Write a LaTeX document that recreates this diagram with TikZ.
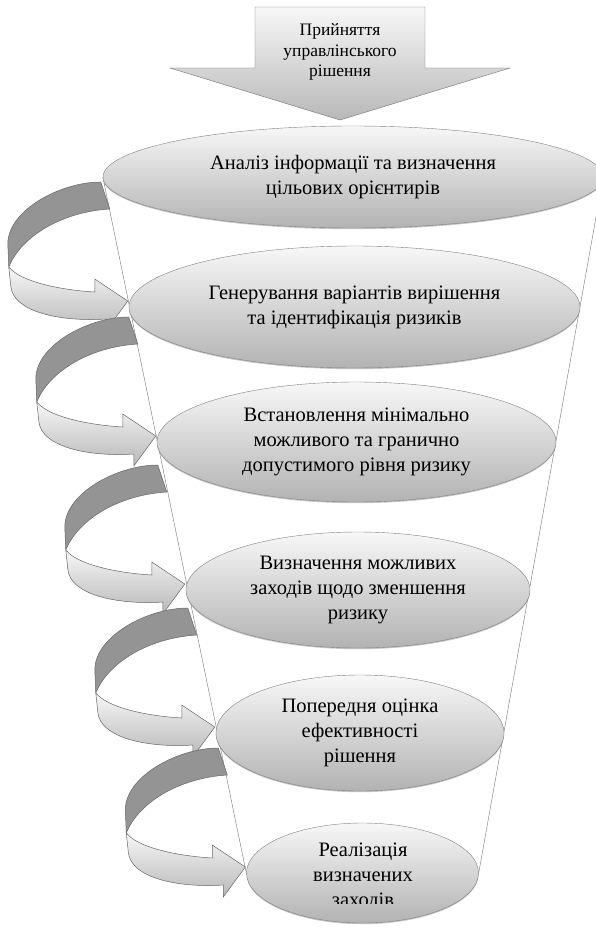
\documentclass[tikz,border=0pt]{standalone}
\usepackage{fontspec}
\setmainfont{Liberation Serif}
\usetikzlibrary{shapes.geometric,shadows,calc,backgrounds}

\tikzset{
  stage/.style={ellipse, draw=black!50, top color=black!3, bottom color=black!30,
    inner sep=0pt, align=center, font=\fontsize{20.5}{25}\selectfont,
    drop shadow={shadow xshift=0pt, shadow yshift=-1.2pt, opacity=0.45}},
  ribbonback/.style={draw=black!60, fill=black!42, line width=0.5pt},
  ribbonfront/.style={draw=black!60, top color=black!3, bottom color=black!28, line width=0.5pt},
}

\begin{document}
\begin{tikzpicture}[x=1pt, y=-1pt]
    \clip (0,0) rectangle (596,928);

    % Incoming arrow at the top
    \draw[draw=black!55, top color=black!3, bottom color=black!28]
        (255,7) -- (425,7) -- (425,68) -- (510,68) -- (340,120) -- (170,68) -- (255,68) -- cycle;
    \node[align=center, font=\fontsize{17.5}{20.5}\selectfont] (start) at (340,52)
        {Прийняття\\управлінського\\рішення};

    % Stages of the funnel
    \node[stage, minimum width=500pt, minimum height=102pt] (e1) at (353,177)
        {Аналіз інформації та визначення\\цільових орієнтирів};
    \node[stage, minimum width=451pt, minimum height=122pt] (e2) at (354.5,307)
        {Генерування варіантів вирішення\\та ідентифікація ризиків};
    \node[stage, minimum width=399pt, minimum height=120pt] (e3) at (356.5,442)
        {Встановлення мінімально\\можливого та гранично\\допустимого рівня ризику};
    \node[stage, minimum width=344pt, minimum height=116pt] (e4) at (358,590)
        {Визначення можливих\\заходів щодо зменшення\\ризику};
    \node[stage, minimum width=288pt, minimum height=116pt] (e5) at (360,733)
        {Попередня оцінка\\ефективності\\рішення};
    \node[stage, minimum width=232pt, minimum height=100pt] (e6) at (362.5,873) {};
    \begin{scope}
        \clip (240,820) rectangle (490,903);
        \node[align=center, font=\fontsize{20.5}{25}\selectfont] (e6text) at (363,877)
            {Реалізація\\визначених\\заходів};
    \end{scope}

    % Funnel sides and loop arrows behind the stages
    \begin{scope}[on background layer]
        \draw[black!55] (e1.west) -- (e6.west) (e1.east) -- (e6.east);
        \foreach \n in {2,...,6} {
            \begin{scope}[shift={($(e\n.west)+(-28,-125)$)}]
                \draw[ribbonback] (0,0) .. controls (-40,0) and (-93,28) .. (-93,62) -- (-92,85)
                    .. controls (-80,55) and (-40,30) .. (9,27) -- cycle;
                \draw[ribbonfront] (-92,85) .. controls (-80,100) and (-40,108) .. (-6,110)
                    -- (-6,97) -- (27,119) -- (5,149) -- (5,137)
                    .. controls (-40,140) and (-88,130) .. (-90,104) -- cycle;
            \end{scope}
        }
    \end{scope}
\end{tikzpicture}
\end{document}
